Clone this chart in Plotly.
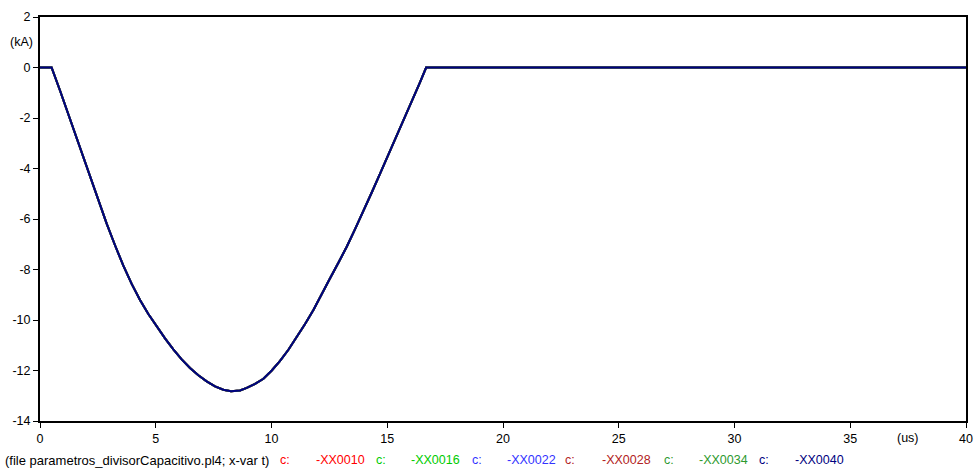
import plotly.graph_objects as go

# time axis (us)
t_us = [0, 0.50, 0.86, 1.44, 1.80, 2.16, 2.52, 2.88, 3.24, 3.60, 3.96, 4.32, 4.68, 5.04,
        5.40, 5.76, 6.12, 6.48, 6.84, 7.20, 7.56, 7.92, 8.25, 8.64, 8.93, 9.29, 9.65,
        10.01, 10.37, 10.73, 11.09, 11.45, 11.81, 12.17, 12.53, 12.89, 13.25, 13.61,
        13.97, 14.33, 14.69, 15.05, 15.41, 15.77, 16.13, 16.41, 16.68, 40]

# currents (kA); all six curves overlap
i_XX0010 = [0, 0, -0.90, -2.43, -3.38, -4.33, -5.27, -6.18, -7.04, -7.85, -8.57, -9.21,
            -9.76, -10.26, -10.73, -11.16, -11.56, -11.90, -12.19, -12.43, -12.63, -12.76,
            -12.82, -12.79, -12.69, -12.53, -12.33, -12.00, -11.62, -11.18, -10.68, -10.16,
            -9.60, -9.00, -8.35, -7.73, -7.10, -6.40, -5.70, -4.95, -4.20, -3.45, -2.70,
            -1.96, -1.22, -0.60, 0, 0]
i_XX0016 = list(i_XX0010)
i_XX0022 = list(i_XX0010)
i_XX0028 = list(i_XX0010)
i_XX0034 = list(i_XX0010)
i_XX0040 = list(i_XX0010)

series_names = ["-XX0010", "-XX0016", "-XX0022", "-XX0028", "-XX0034", "-XX0040"]
series_vals = [i_XX0010, i_XX0016, i_XX0022, i_XX0028, i_XX0034, i_XX0040]
series_colors = ["#FF0000", "#00CC00", "#3333FF", "#B22222", "#2E9A2E", "#000080"]

x_ticks = [0, 5, 10, 15, 20, 25, 30, 35, 40]
y_ticks = [2, 0, -2, -4, -6, -8, -10, -12, -14]

FONT = "Liberation Sans"
FS = 12.5

fig = go.Figure()
for name, vals, col in zip(series_names, series_vals, series_colors):
    fig.add_trace(go.Scatter(x=t_us, y=vals, mode="lines", name=name,
                             line=dict(color=col, width=2), showlegend=False))

axis_common = dict(showgrid=False, zeroline=False, showline=True, linecolor="black",
                   linewidth=2, mirror=True, ticks="outside", ticklen=5, tickwidth=1,
                   tickcolor="black", tickfont=dict(size=FS), automargin=False)

fig.update_layout(
    width=974, height=469,
    margin=dict(l=40, r=8, t=17, b=48),
    paper_bgcolor="white", plot_bgcolor="white",
    font=dict(family=FONT, size=FS, color="black"),
    xaxis=dict(range=[0, 40], tickvals=x_ticks, ticktext=[str(v) for v in x_ticks],
               **axis_common),
    yaxis=dict(range=[-14, 2], tickvals=y_ticks, ticktext=[str(v) for v in y_ticks],
               **axis_common),
)

# unit labels
fig.add_annotation(x=0, y=1, xref="paper", yref="y", text="(kA)", showarrow=False,
                   xanchor="right", yanchor="middle", xshift=-5, font=dict(size=FS))
fig.add_annotation(x=37.5, y=0, xref="x", yref="paper", text="(us)", showarrow=False,
                   xanchor="center", yanchor="top", yshift=-8, font=dict(size=FS))

# bottom legend line
def px_to_paper(px):
    return (px - 40) / 926.0

LEG_SHIFT = -39
fig.add_annotation(x=px_to_paper(3), y=0, xref="paper", yref="paper",
                   text="(file parametros_divisorCapacitivo.pl4; x-var t)", showarrow=False,
                   xanchor="left", yanchor="middle", yshift=LEG_SHIFT, font=dict(size=13))
c_pos = [278, 374, 470, 563, 662, 757]
n_pos = [314, 409, 505, 600, 697, 793]
for name, col, cp, npos in zip(series_names, series_colors, c_pos, n_pos):
    fig.add_annotation(x=px_to_paper(cp), y=0, xref="paper", yref="paper", text="c:",
                       showarrow=False, xanchor="left", yanchor="middle", yshift=LEG_SHIFT,
                       font=dict(size=FS, color=col))
    fig.add_annotation(x=px_to_paper(npos), y=0, xref="paper", yref="paper", text=name,
                       showarrow=False, xanchor="left", yanchor="middle", yshift=LEG_SHIFT,
                       font=dict(size=FS, color=col))

fig.write_html("out.html", config={"displayModeBar": False},
               post_script="document.body.style.margin='0';document.body.style.overflow='hidden';")
